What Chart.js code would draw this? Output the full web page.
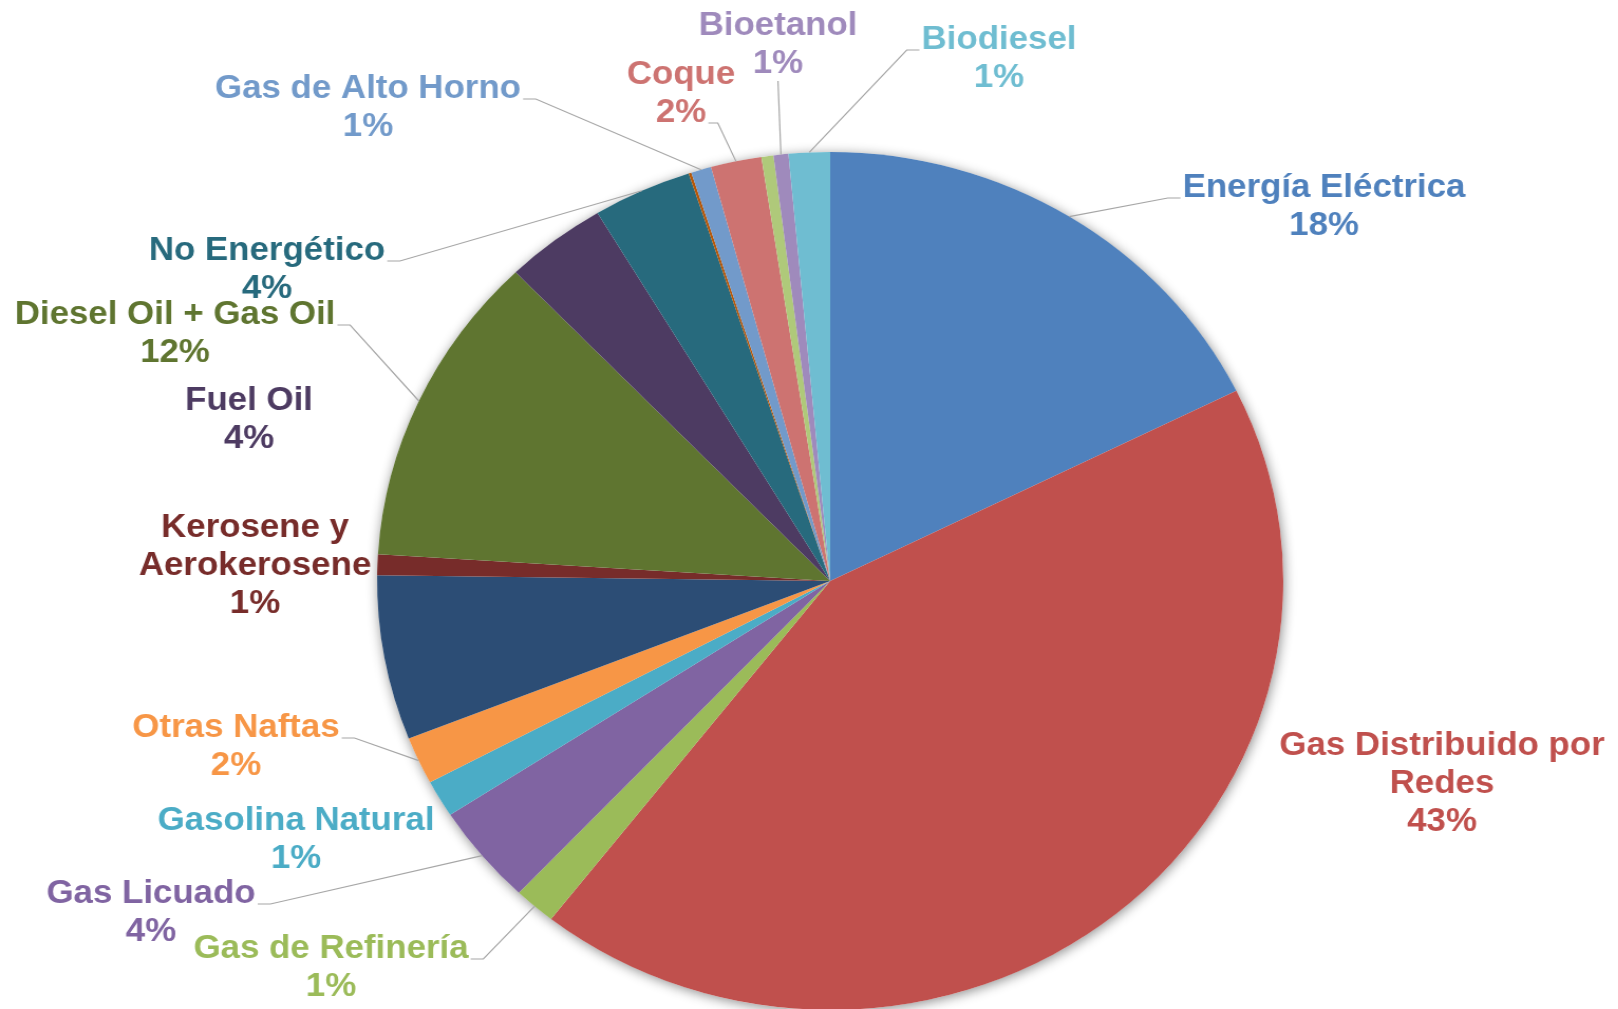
<!DOCTYPE html>
<html><head><meta charset="utf-8">
<script src="https://cdn.jsdelivr.net/npm/chart.js@4.4.1/dist/chart.umd.min.js"></script>
<style>
html,body{margin:0;padding:0;background:#fff;overflow:hidden;width:1618px;height:1009px}
#wrap{position:absolute;left:0;top:0;width:1532px;height:1010px;transform:scaleX(1.0562);transform-origin:0 0}
canvas{display:block}
</style></head><body>
<div id="wrap"><canvas id="c" width="1532" height="1010"></canvas></div>
<script>
// ---- data (clockwise from 12 o'clock) ----
const categories = [
  'Energía Eléctrica', 'Gas Distribuido por Redes', 'Gas de Refinería', 'Gas Licuado',
  'Gasolina Natural', 'Otras Naftas', '', 'Kerosene y Aerokerosene',
  'Diesel Oil + Gas Oil', 'Fuel Oil', 'No Energético', '',
  'Gas de Alto Horno', 'Coque', '', 'Bioetanol', 'Biodiesel'
];
const values = [17.7, 42.9, 1.49, 3.78, 1.4, 1.79, 6.2, 0.78, 11.8, 3.63, 3.53, 0.1, 0.72, 1.81, 0.43, 0.53, 1.47];
const colors = [
  '#4F81BD', '#C0504D', '#9BBB59', '#8064A2', '#4BACC6', '#F79646', '#2C4D75', '#772C2A',
  '#5F7530', '#4D3B62', '#276A7D', '#B65708', '#729ACA', '#CD7371', '#AFC97A', '#9F8ABC', '#6FBDD1'
];

// ---- label placement (reference pixels: centre of first text line) ----
const labelPlacement = [
  {x:1324, y:185, leader:'left'},
  {x:1442, y:743, leader:null, maxW:320},
  {x:331,  y:946, leader:'right'},
  {x:151,  y:891, leader:'right'},
  {x:296,  y:818, leader:null},
  {x:236,  y:725, leader:'right'},
  null,
  {x:255,  y:525, leader:null, maxW:230},
  {x:175,  y:312, leader:'right'},
  {x:249,  y:398, leader:null},
  {x:267,  y:248, leader:'right'},
  null,
  {x:368,  y:86,  leader:'right'},
  {x:681,  y:72,  leader:'rightLast'},
  null,
  {x:778,  y:23,  leader:'bottom'},
  {x:999,  y:37,  leader:'left'}
];

const STRETCH = 1.0562;
const FONT = 'bold 33px "Liberation Sans", Arial, sans-serif';
const LINE_H = 38;

const total = values.reduce((a, b) => a + b, 0);

function wrapText(ctx, text, maxW) {
  if (!maxW) return [text];
  const words = text.split(' ');
  const lines = [];
  let cur = '';
  for (const w of words) {
    const t = cur ? cur + ' ' + w : w;
    if (cur && ctx.measureText(t).width > maxW) { lines.push(cur); cur = w; }
    else cur = t;
  }
  if (cur) lines.push(cur);
  return lines;
}

const shadowPlugin = {
  id: 'pieShadow',
  beforeDatasetsDraw(chart) {
    const arc = chart.getDatasetMeta(0).data[0];
    if (!arc) return;
    const ctx = chart.ctx;
    ctx.save();
    ctx.shadowColor = 'rgba(0,0,0,0.45)';
    ctx.shadowBlur = 12;
    ctx.shadowOffsetX = 1;
    ctx.shadowOffsetY = 2;
    ctx.fillStyle = '#ffffff';
    ctx.beginPath();
    ctx.arc(arc.x, arc.y, arc.outerRadius, 0, Math.PI * 2);
    ctx.fill();
    ctx.restore();
  }
};

const labelPlugin = {
  id: 'outLabels',
  afterDatasetsDraw(chart) {
    const ctx = chart.ctx;
    const meta = chart.getDatasetMeta(0);
    ctx.save();
    ctx.font = FONT;
    ctx.textAlign = 'center';
    ctx.textBaseline = 'alphabetic';
    categories.forEach((name, i) => {
      const p = labelPlacement[i];
      if (!p || !name) return;
      const pct = Math.round(values[i] / total * 100) + '%';
      const lines = wrapText(ctx, name, p.maxW).concat([pct]);
      const cx = p.x / STRETCH;
      // leader line
      if (p.leader) {
        const a = meta.data[i];
        const mid = (a.startAngle + a.endAngle) / 2;
        const px = a.x + Math.cos(mid) * a.outerRadius;
        const py = a.y + Math.sin(mid) * a.outerRadius;
        let x0, y0, x1, y1;
        const w0 = ctx.measureText(lines[0]).width;
        const wl = ctx.measureText(lines[lines.length - 1]).width;
        if (p.leader === 'right') { x0 = cx + w0 / 2 + 2; y0 = p.y + 13; x1 = x0 + 12; y1 = y0; }
        else if (p.leader === 'left') { x0 = cx - w0 / 2 - 2; y0 = p.y + 13; x1 = x0 - 12; y1 = y0; }
        else if (p.leader === 'rightLast') { x0 = cx + wl / 2 + 2; y0 = p.y + (lines.length - 1) * LINE_H + 13; x1 = x0 + 9; y1 = y0; }
        else { x0 = cx; y0 = p.y + (lines.length - 1) * LINE_H + 20; x1 = x0; y1 = y0; }
        ctx.strokeStyle = '#A6A6A6';
        ctx.lineWidth = 1.2;
        ctx.beginPath();
        ctx.moveTo(x0, y0);
        ctx.lineTo(x1, y1);
        ctx.lineTo(px, py);
        ctx.stroke();
      }
      ctx.fillStyle = colors[i];
      lines.forEach((ln, k) => {
        ctx.fillText(ln, cx, p.y + k * LINE_H + 12);
      });
    });
    ctx.restore();
  }
};

new Chart(document.getElementById('c'), {
  type: 'pie',
  data: {
    labels: categories,
    datasets: [{
      data: values,
      backgroundColor: colors,
      borderWidth: 0,
      hoverOffset: 0
    }]
  },
  options: {
    responsive: false,
    animation: false,
    devicePixelRatio: 1,
    layout: { padding: { top: 152, bottom: 0, left: 357, right: 317 } },
    plugins: {
      legend: { display: false },
      tooltip: { enabled: false }
    }
  },
  plugins: [shadowPlugin, labelPlugin]
});
</script>
</body></html>
